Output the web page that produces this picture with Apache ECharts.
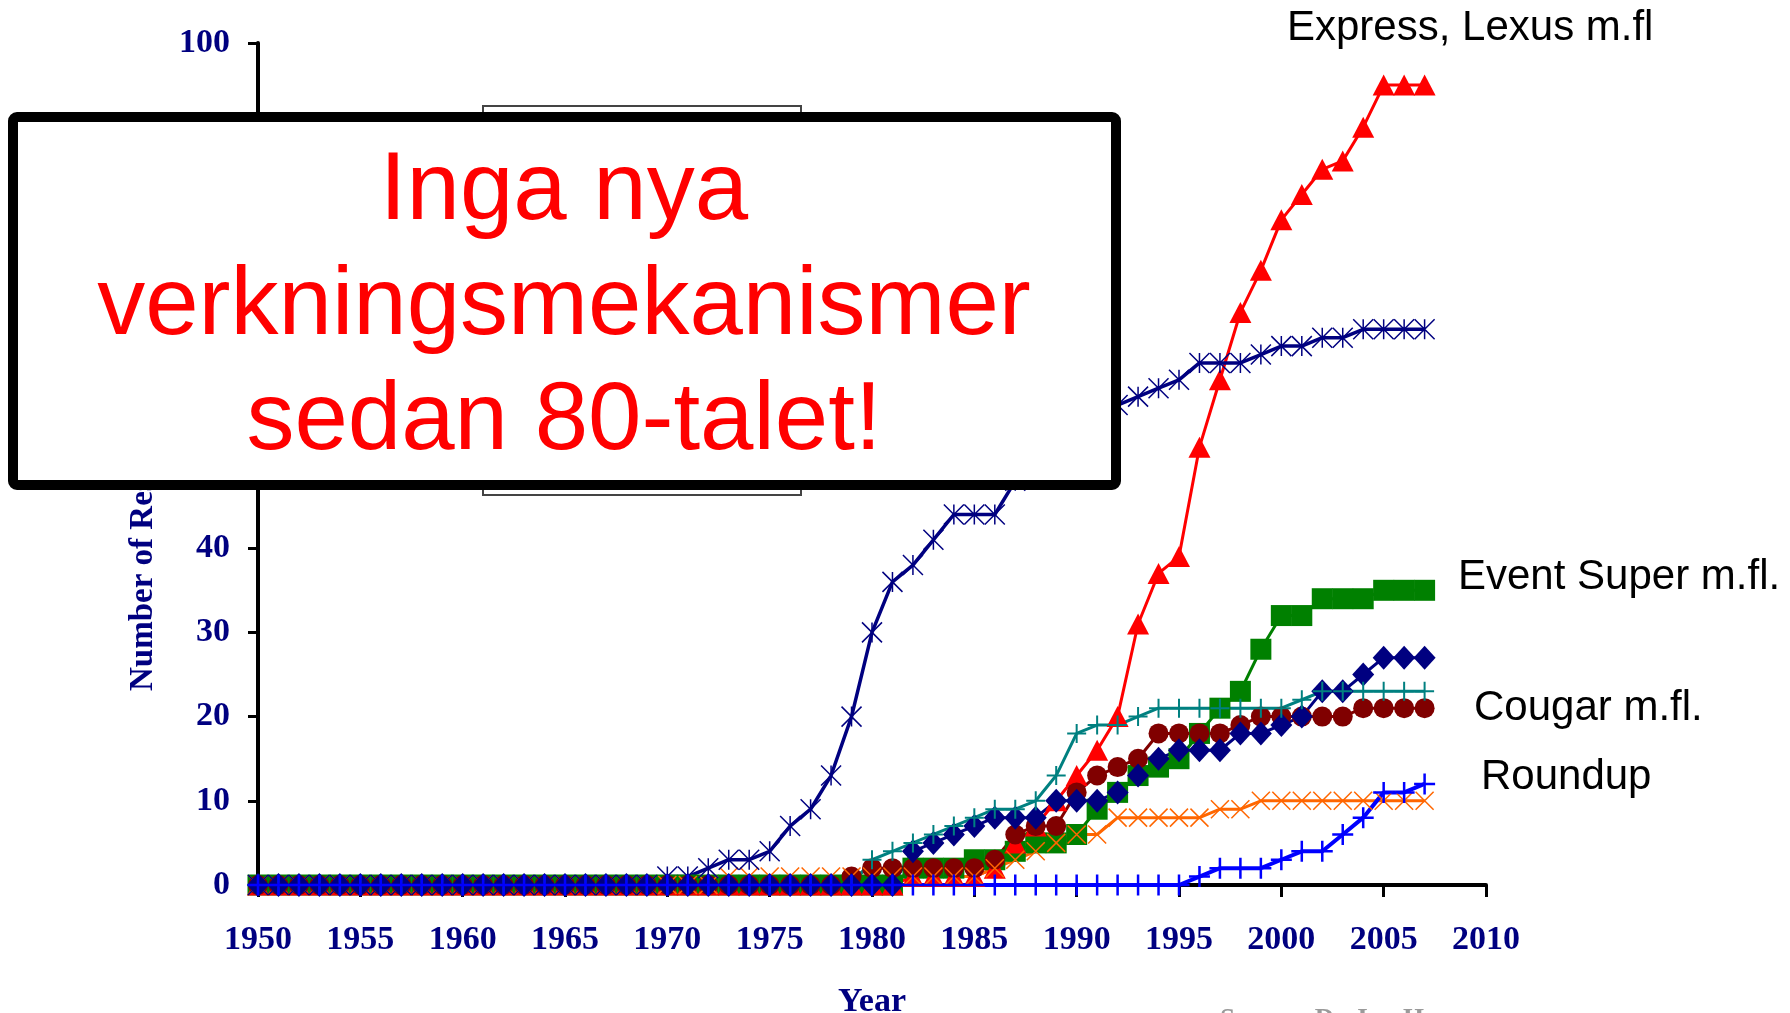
<!DOCTYPE html>
<html>
<head>
<meta charset="utf-8">
<script src="https://cdn.jsdelivr.net/npm/echarts@6/dist/echarts.min.js"></script>
<style>
html,body{margin:0;padding:0;background:#fff;}
#chart{width:1790px;height:1013px;}
</style>
</head>
<body>
<div id="chart"></div>
<script>
// ---- data (index 0 = 1950 ... index 57 = 2007) ----
const years = [1950,1951,1952,1953,1954,1955,1956,1957,1958,1959,
  1960,1961,1962,1963,1964,1965,1966,1967,1968,1969,
  1970,1971,1972,1973,1974,1975,1976,1977,1978,1979,
  1980,1981,1982,1983,1984,1985,1986,1987,1988,1989,
  1990,1991,1992,1993,1994,1995,1996,1997,1998,1999,
  2000,2001,2002,2003,2004,2005,2006,2007];

const xTicks = [1950,1955,1960,1965,1970,1975,1980,1985,1990,1995,2000,2005,2010];
const yTicks = [0,10,20,30,40,50,60,70,80,90,100];

// Triazines (navy, asterisk)
const triazines = [0,0,0,0,0,0,0,0,0,0, 0,0,0,0,0,0,0,0,0,0,
  1,1,2,3,3,4,7,9,13,20, 30,36,38,41,44,44,44,48,50,52,
  54,56,57,58,59,60,62,62,62,63, 64,64,65,65,66,66,66,66];
// ALS (red, triangle) - "Express, Lexus m.fl"
const als = [0,0,0,0,0,0,0,0,0,0, 0,0,0,0,0,0,0,0,0,0,
  0,0,0,0,0,0,0,0,0,0, 0,0,1,1,1,1,2,5,7,10,
  13,16,20,31,37,39,52,60,68,73, 79,82,85,86,90,95,95,95];
// ACCase (green, square) - "Event Super m.fl."
const accase = [0,0,0,0,0,0,0,0,0,0, 0,0,0,0,0,0,0,0,0,0,
  0,0,0,0,0,0,0,0,0,0, 0,0,2,2,2,3,3,4,5,5,
  6,9,11,13,14,15,18,21,23,28, 32,32,34,34,34,35,35,35];
// Synthetic auxins (navy, diamond)
const auxins = [0,0,0,0,0,0,0,0,0,0, 0,0,0,0,0,0,0,0,0,0,
  0,0,0,0,0,0,0,0,0,0, 0,0,4,5,6,7,8,8,8,10,
  10,10,11,13,15,16,16,16,18,18, 19,20,23,23,25,27,27,27];
// Bipyridiliums (teal, plus)
const bipyridiliums = [0,0,0,0,0,0,0,0,0,0, 0,0,0,0,0,0,0,0,0,0,
  0,0,0,0,0,0,0,0,0,0, 3,4,5,6,7,8,9,9,10,13,
  18,19,19,20,21,21,21,21,21,21, 21,22,23,23,23,23,23,23];
// Ureas, amides (maroon, circle) - "Cougar m.fl."
const ureas = [0,0,0,0,0,0,0,0,0,0, 0,0,0,0,0,0,0,0,0,0,
  0,0,0,0,0,0,0,0,0,1, 2,2,2,2,2,2,3,6,7,7,
  11,13,14,15,18,18,18,18,19,20, 20,20,20,20,21,21,21,21];
// Dinitroanilines (orange, x)
const dinitroanilines = [0,0,0,0,0,0,0,0,0,0, 0,0,0,0,0,0,0,0,0,0,
  0,0,0,1,1,1,1,1,1,1, 1,1,1,1,1,1,2,3,4,5,
  6,6,8,8,8,8,8,9,9,10, 10,10,10,10,10,10,10,10];
// Glycines (blue, plus) - "Roundup"
const glycines = [0,0,0,0,0,0,0,0,0,0, 0,0,0,0,0,0,0,0,0,0,
  0,0,0,0,0,0,0,0,0,0, 0,0,0,0,0,0,0,0,0,0,
  0,0,0,0,0,0,1,2,2,2, 3,4,4,6,8,11,11,12];

const labelTexts = ["Express, Lexus m.fl", "Event Super m.fl.", "Cougar m.fl.", "Roundup"];
const boxLines = ["Inga nya", "verkningsmekanismer", "sedan 80-talet!"];

// ---- chart ----
const pair = arr => years.map((y, i) => [y, arr[i]]);
const NAVY = '#000080';
const PLUS = 'path://M10,0L10,20M0,10L20,10';
const XMARK = 'path://M0,0L20,20M20,0L0,20';
const STAR = 'path://M0,0L20,20M20,0L0,20M10,0L10,20';

function lineSeries(name, arr, color, symbol, size, lw, strokeSym, bw) {
  return {
    name: name, type: 'line', data: pair(arr),
    symbol: symbol, symbolSize: size, showAllSymbol: true,
    lineStyle: {color: color, width: lw},
    itemStyle: strokeSym ? {color: color, borderColor: color, borderWidth: bw} : {color: color, borderWidth: 0},
    emphasis: {disabled: true}, silent: true, clip: false
  };
}

const chart = echarts.init(document.getElementById('chart'), null, {renderer: 'canvas'});
const axisFont = {color: NAVY, fontFamily: '"Liberation Serif", "Times New Roman", serif', fontWeight: 'bold', fontSize: 34};
const SANS = '"Liberation Sans", Arial, sans-serif';

const option = {
  animation: false,
  backgroundColor: '#fff',
  grid: {left: 258, right: 304, top: 43, bottom: 128, containLabel: false, outerBoundsMode: 'none'},
  xAxis: {
    type: 'value', min: xTicks[0], max: xTicks[xTicks.length - 1], interval: 5,
    axisLine: {show: true, onZero: false, lineStyle: {color: '#000', width: 4}},
    axisTick: {show: true, length: 12, lineStyle: {color: '#000', width: 3}},
    axisLabel: Object.assign({margin: 38, formatter: v => String(v)}, axisFont),
    splitLine: {show: false},
    name: 'Year', nameLocation: 'middle', nameGap: 100,
    nameTextStyle: axisFont
  },
  yAxis: {
    type: 'value', min: yTicks[0], max: yTicks[yTicks.length - 1], interval: 10,
    axisLine: {show: true, lineStyle: {color: '#000', width: 4}},
    axisTick: {show: true, length: 10, lineStyle: {color: '#000', width: 3}},
    axisLabel: Object.assign({margin: 28}, axisFont),
    splitLine: {show: false}
  },
  series: [
    lineSeries('ACCase', accase, '#008000', 'rect', 21, 3, false),
    lineSeries('ALS', als, '#ff0000', 'triangle', [22, 21], 3, false),
    lineSeries('Ureas, amides', ureas, '#800000', 'circle', 20, 3, false),
    lineSeries('Dinitroanilines', dinitroanilines, '#ff6600', XMARK, 18, 3, true, 1.5),
    lineSeries('Synthetic auxins', auxins, NAVY, 'diamond', [22, 24], 3, false),
    lineSeries('Bipyridiliums', bipyridiliums, '#008080', PLUS, 19, 3, true, 2),
    lineSeries('Triazines', triazines, NAVY, STAR, 20, 3.5, true, 1.5),
    lineSeries('Glycines', glycines, '#0000ff', PLUS, 21, 4, true, 2.5)
  ],
  graphic: [
    {type: 'text', x: 143, y: 691, rotation: Math.PI / 2, z: 10,
      style: {text: 'Number of Resistant Biotypes', fill: NAVY, fontSize: 33, fontWeight: 'bold',
        fontFamily: '"Liberation Serif", serif', align: 'left', verticalAlign: 'middle'}},
    {type: 'rect', z: 20, shape: {x: 483, y: 106, width: 318, height: 389},
      style: {fill: '#fff', stroke: '#444', lineWidth: 2}},
    {type: 'rect', z: 30, shape: {x: 13, y: 117, width: 1103, height: 368, r: 4},
      style: {fill: '#fff', stroke: '#000', lineWidth: 10}},
    {type: 'text', z: 31, x: 564, y: 193, style: {text: boxLines[0], fill: '#ff0000', fontSize: 96,
      fontFamily: SANS, align: 'center', verticalAlign: 'middle'}},
    {type: 'text', z: 31, x: 564, y: 308, style: {text: boxLines[1], fill: '#ff0000', fontSize: 96,
      fontFamily: SANS, align: 'center', verticalAlign: 'middle'}},
    {type: 'text', z: 31, x: 564, y: 423, style: {text: boxLines[2], fill: '#ff0000', fontSize: 96,
      fontFamily: SANS, align: 'center', verticalAlign: 'middle'}},
    {type: 'text', z: 31, x: 1287, y: 28, style: {text: labelTexts[0], fill: '#000', fontSize: 42,
      fontFamily: SANS, align: 'left', verticalAlign: 'middle'}},
    {type: 'text', z: 31, x: 1458, y: 577, style: {text: labelTexts[1], fill: '#000', fontSize: 42,
      fontFamily: SANS, align: 'left', verticalAlign: 'middle'}},
    {type: 'text', z: 31, x: 1474, y: 708, style: {text: labelTexts[2], fill: '#000', fontSize: 42,
      fontFamily: SANS, align: 'left', verticalAlign: 'middle'}},
    {type: 'text', z: 31, x: 1481, y: 777, style: {text: labelTexts[3], fill: '#000', fontSize: 42,
      fontFamily: SANS, align: 'left', verticalAlign: 'middle'}},
    {type: 'text', z: 31, x: 1220, y: 1007, style: {text: 'Source: Dr. Ian Heap', fill: '#9a9a9a', fontSize: 27,
      fontWeight: 'bold', fontFamily: '"Liberation Serif", serif', align: 'left', verticalAlign: 'top'}}
  ]
};
chart.setOption(option);
</script>
</body>
</html>
